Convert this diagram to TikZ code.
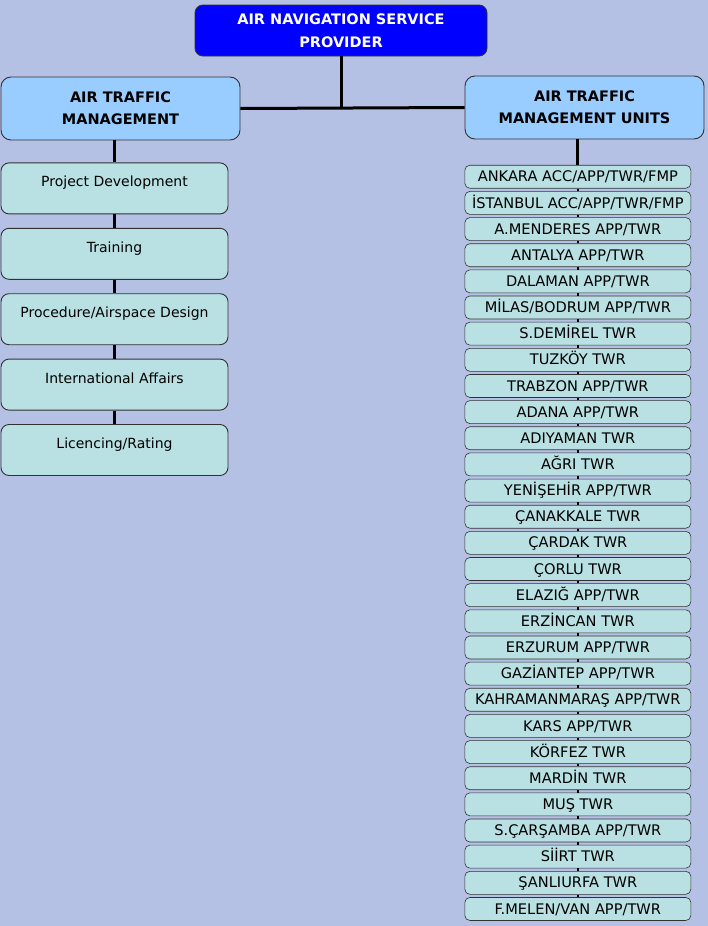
\documentclass[tikz,border=0pt]{standalone}
\usepackage{fontspec}
\setmainfont{DejaVu Sans}
\usepackage{xcolor}
\usetikzlibrary{positioning, calc}

\definecolor{bgcol}{RGB}{180,192,228}
\definecolor{topcol}{RGB}{0,0,255}
\definecolor{headcol}{RGB}{153,204,255}
\definecolor{subcol}{RGB}{185,225,227}
\definecolor{edgecol}{RGB}{50,50,50}

\begin{document}
\begin{tikzpicture}[x=1pt, y=1pt,
    provider/.style={rectangle, draw=edgecol, line width=0.9pt, fill=topcol, rounded corners=8pt, minimum width=292pt, minimum height=51pt, align=center, text=white, font=\fontsize{14.5}{23}\selectfont\bfseries},
    head/.style={rectangle, draw=edgecol, line width=0.9pt, fill=headcol, rounded corners=10pt, minimum width=239pt, minimum height=63pt, align=center, font=\fontsize{14.5}{22}\selectfont\bfseries},
    dept/.style={rectangle, draw=edgecol, line width=0.9pt, fill=subcol, rounded corners=8pt, minimum width=227pt, inner ysep=0pt, text height=24pt, text depth=27pt, align=center, font=\fontsize{14}{16}\selectfont},
    unit/.style={rectangle, draw=edgecol, line width=0.6pt, fill=subcol, rounded corners=5pt, minimum width=226pt, inner ysep=0pt, text height=16.6pt, text depth=6.4pt, align=center, font=\fontsize{14.6}{16}\selectfont},
    link/.style={line width=3pt, black},
    ulink/.style={line width=2.5pt, black}
]

% Canvas
\fill[bgcol] (0,0) rectangle (708,-926);
\useasboundingbox (0,0) rectangle (708,-926);

% Top level
\node (anp) [provider] at (341,-30.5) {AIR NAVIGATION SERVICE\\PROVIDER};
\node (atm) [head] at (120.5,-108.5) {AIR TRAFFIC\\MANAGEMENT};
\node (atmu) [head] at (584.5,-107.5) {AIR TRAFFIC\\MANAGEMENT UNITS};

% Departments (left column)
\node (d1) [dept, anchor=north west] at ([yshift=-22pt]atm.south west) {Project Development};
\foreach \txt [count=\i from 2, remember=\i as \j (initially 1)] in {Training, Procedure/Airspace Design, International Affairs, Licencing/Rating}
    \node (d\i) [dept, below=13.5pt of d\j] {\txt};

% Units (right column)
\node (u1) [unit, anchor=north west] at ([yshift=-25.5pt]atmu.south west) {ANKARA ACC/APP/TWR/FMP};
\foreach \txt [count=\i from 2, remember=\i as \j (initially 1)] in {İSTANBUL ACC/APP/TWR/FMP, A.MENDERES APP/TWR, ANTALYA APP/TWR, DALAMAN APP/TWR, MİLAS/BODRUM APP/TWR, S.DEMİREL TWR, TUZKÖY TWR, TRABZON APP/TWR, ADANA APP/TWR, ADIYAMAN TWR, AĞRI TWR, YENİŞEHİR APP/TWR, ÇANAKKALE TWR, ÇARDAK TWR, ÇORLU TWR, ELAZIĞ APP/TWR, ERZİNCAN TWR, ERZURUM APP/TWR, GAZİANTEP APP/TWR, KAHRAMANMARAŞ APP/TWR, KARS APP/TWR, KÖRFEZ TWR, MARDİN TWR, MUŞ TWR, S.ÇARŞAMBA APP/TWR, SİİRT TWR, ŞANLIURFA TWR, F.MELEN/VAN APP/TWR}
    \node (u\i) [unit, below=2.55pt of u\j] {\txt};

% Connections
\coordinate (hub) at (anp.south |- atm.east);
\draw [link] (anp.south) -- (hub);
\draw [link] (atm.east) -- (atmu.west);
\draw [link] (d1.north |- atm.south) -- (d1.north);
\foreach \i [remember=\i as \j (initially 1)] in {2,...,5}
    \draw [link] (d\j.south) -- (d\i.north);
\draw [link] (u1.north |- atmu.south) -- (u1.north);
\foreach \i [remember=\i as \j (initially 1)] in {2,...,29}
    \draw [ulink] (u\j.south) -- (u\i.north);

\end{tikzpicture}
\end{document}
